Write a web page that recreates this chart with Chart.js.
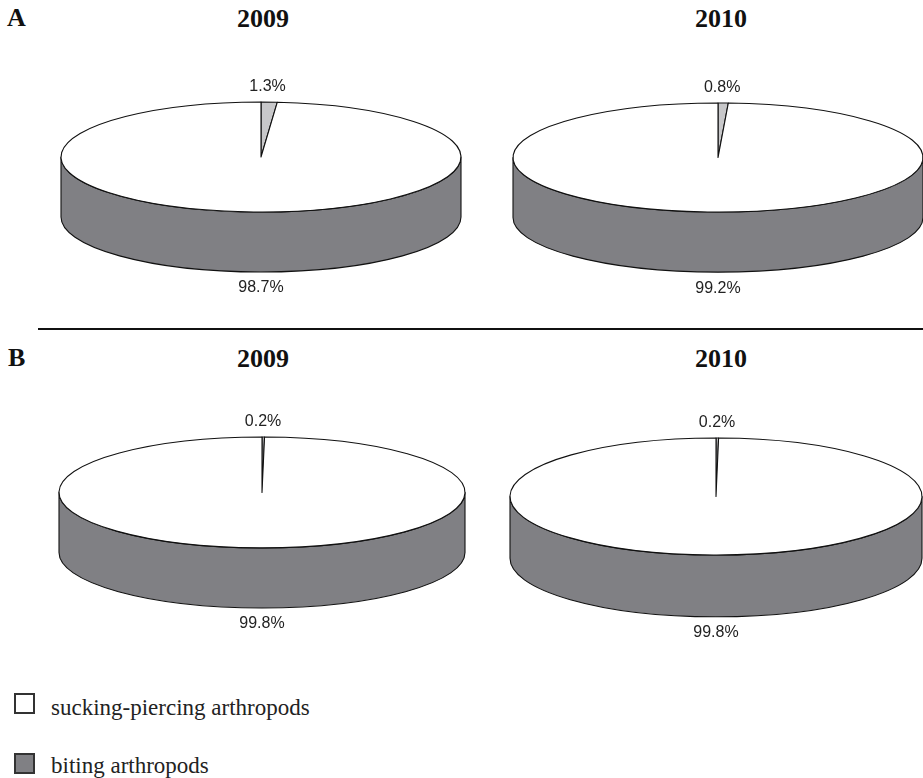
<!DOCTYPE html>
<html><head><meta charset="utf-8">
<script src="https://cdn.jsdelivr.net/npm/chart.js@4.4.1/dist/chart.umd.min.js"></script>
<style>
html,body{margin:0;padding:0;width:923px;height:778px;overflow:hidden;background:#fff;}
.t{position:absolute;font-family:"Liberation Serif","Times New Roman",serif;font-weight:bold;font-size:26px;line-height:26px;color:#111;white-space:nowrap;}
.c{text-align:center;width:200px;}
.lg{position:absolute;font-family:"Liberation Serif","Times New Roman",serif;font-size:23px;line-height:23px;color:#222;white-space:nowrap;}
.box{position:absolute;width:21px;height:21px;box-sizing:border-box;border:2px solid #333;}
canvas{position:absolute;}
</style></head><body>
<div class="t" style="left:7px;top:5px;">A</div>
<div class="t c" id="tA0" style="left:163px;top:6px;"></div>
<div class="t c" id="tA1" style="left:621px;top:6px;"></div>
<div style="position:absolute;left:38px;top:328px;width:885px;height:2px;background:#111;"></div>
<div class="t" style="left:8px;top:345px;">B</div>
<div class="t c" id="tB0" style="left:163px;top:346px;"></div>
<div class="t c" id="tB1" style="left:621px;top:346px;"></div>
<canvas id="cA0" width="410" height="250" style="left:56px;top:62px;"></canvas>
<canvas id="cA1" width="420" height="250" style="left:508px;top:63px;"></canvas>
<canvas id="cB0" width="416" height="250" style="left:54px;top:397px;"></canvas>
<canvas id="cB1" width="422" height="250" style="left:505px;top:398px;"></canvas>
<div class="box" style="left:14px;top:693px;background:#fff;"></div>
<div class="lg" id="lg0" style="left:51px;top:696px;"></div>
<div class="box" style="left:14px;top:753px;background:#808084;"></div>
<div class="lg" id="lg1" style="left:51px;top:754px;"></div>
<script>
const years = ['2009', '2010'];
const categories = ['sucking-piercing arthropods', 'biting arthropods'];
const suckingA = [1.3, 0.8];
const bitingA = [98.7, 99.2];
const suckingB = [0.2, 0.2];
const bitingB = [99.8, 99.8];

const topColors = ['#c8c8ca', '#ffffff'];
const sideColors = ['#a8a8aa', '#808084'];

document.getElementById('tA0').textContent = years[0];
document.getElementById('tA1').textContent = years[1];
document.getElementById('tB0').textContent = years[0];
document.getElementById('tB1').textContent = years[1];
document.getElementById('lg0').textContent = categories[0];
document.getElementById('lg1').textContent = categories[1];

const pie3d = {
  id: 'pie3d',
  beforeDatasetsDraw(chart, args, opts) {
    const ctx = chart.ctx, ca = chart.chartArea;
    const rx = (ca.right - ca.left) / 2, cx = ca.left + rx;
    const ry = rx * opts.tilt, cy = ca.top + ry, depth = rx * opts.depth;
    const meta = chart.getDatasetMeta(0);
    const vals = chart.data.datasets[0].data;
    ctx.save();
    ctx.lineWidth = 1.1;
    ctx.strokeStyle = '#111';
    ctx.lineJoin = 'round';
    meta.data.forEach((arc, i) => {
      const p = arc.getProps(['startAngle', 'endAngle'], true);
      const a = Math.max(p.startAngle, 0), b = Math.min(p.endAngle, Math.PI);
      if (b > a) {
        ctx.beginPath();
        ctx.ellipse(cx, cy, rx, ry, 0, a, b, false);
        ctx.lineTo(cx + rx * Math.cos(b), cy + depth + ry * Math.sin(b));
        ctx.ellipse(cx, cy + depth, rx, ry, 0, b, a, true);
        ctx.closePath();
        ctx.fillStyle = opts.sideColors[i];
        ctx.fill();
        ctx.stroke();
      }
    });
    meta.data.forEach((arc, i) => {
      const p = arc.getProps(['startAngle', 'endAngle'], true);
      ctx.beginPath();
      ctx.moveTo(cx, cy);
      ctx.ellipse(cx, cy, rx, ry, 0, p.startAngle, p.endAngle, false);
      ctx.closePath();
      ctx.fillStyle = arc.options.backgroundColor;
      ctx.fill();
      ctx.stroke();
    });
    ctx.font = '16px "Liberation Sans", Arial, sans-serif';
    ctx.fillStyle = '#222';
    ctx.textAlign = 'center';
    ctx.textBaseline = 'middle';
    meta.data.forEach((arc, i) => {
      const p = arc.getProps(['startAngle', 'endAngle'], true);
      const mid = (p.startAngle + p.endAngle) / 2;
      const txt = vals[i].toFixed(1) + '%';
      if (Math.sin(mid) < 0) {
        ctx.fillText(txt, cx + 0.8 * rx * Math.cos(mid), cy - ry - 15);
      } else {
        ctx.fillText(txt, cx, cy + depth + ry + 16);
      }
    });
    ctx.restore();
    return false;
  }
};

function makePie(id, values, tilt, depth) {
  new Chart(document.getElementById(id), {
    type: 'pie',
    data: {
      labels: categories,
      datasets: [{ data: values, backgroundColor: topColors, borderColor: '#111', borderWidth: 1 }]
    },
    options: {
      responsive: false,
      animation: false,
      events: [],
      layout: { padding: { left: 5, right: 5, top: 40, bottom: 40 } },
      plugins: {
        legend: { display: false },
        tooltip: { enabled: false },
        pie3d: { tilt: tilt, depth: depth, sideColors: sideColors }
      }
    },
    plugins: [pie3d]
  });
}

makePie('cA0', [suckingA[0], bitingA[0]], 0.275, 0.30);
makePie('cA1', [suckingA[1], bitingA[1]], 0.266, 0.293);
makePie('cB0', [suckingB[0], bitingB[0]], 0.273, 0.296);
makePie('cB1', [suckingB[1], bitingB[1]], 0.284, 0.30);
</script>
</body></html>
